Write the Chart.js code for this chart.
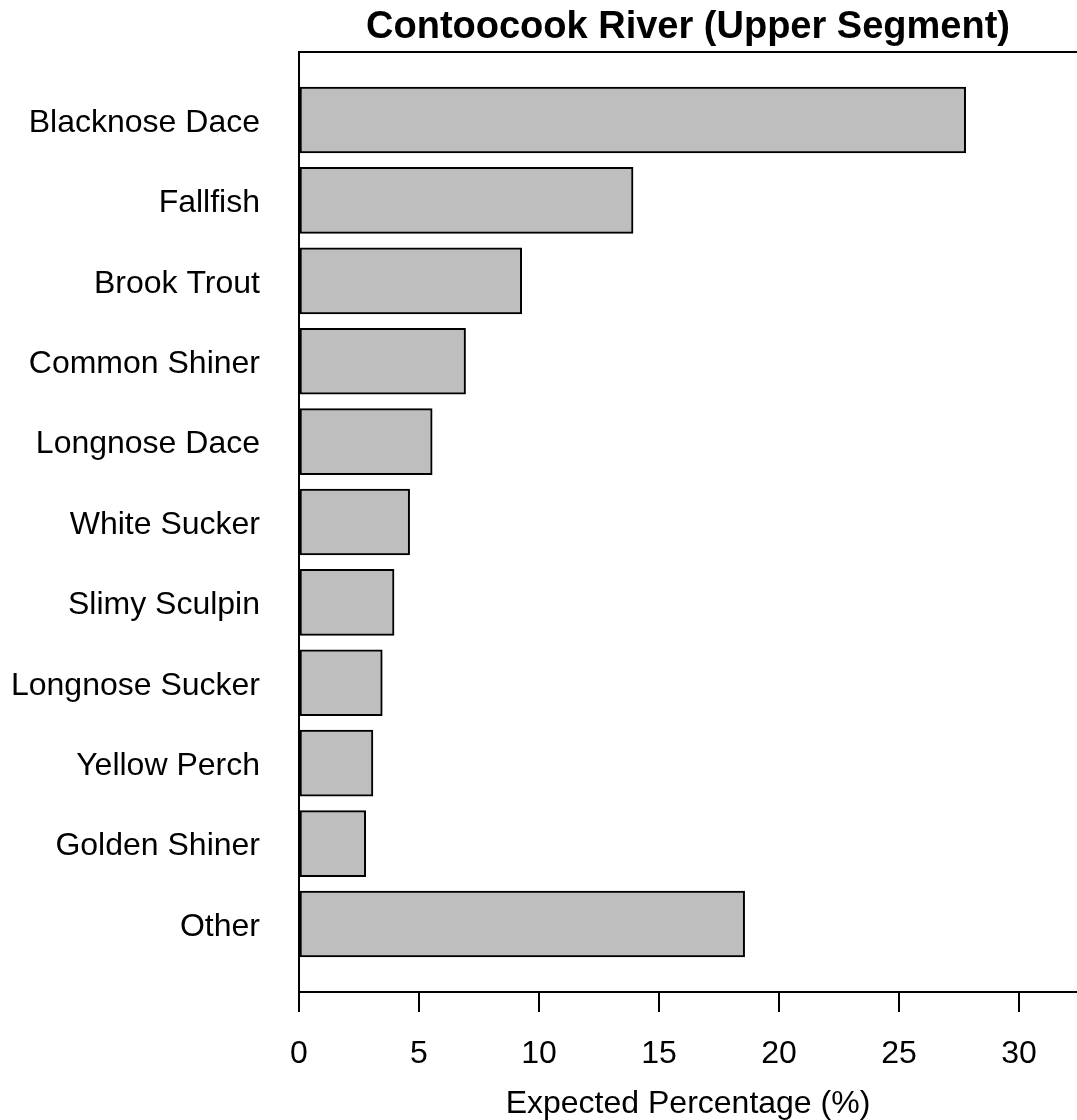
<!DOCTYPE html>
<html>
<head>
<meta charset="utf-8">
<script src="https://cdn.jsdelivr.net/npm/chart.js@4/dist/chart.umd.min.js"></script>
<style>
html,body{margin:0;padding:0;background:#fff;}
#wrap{width:1077px;height:1120px;}
</style>
</head>
<body>
<div id="wrap"><canvas id="c" width="1077" height="1120"></canvas></div>
<script>
const categories = ["Blacknose Dace","Fallfish","Brook Trout","Common Shiner","Longnose Dace","White Sucker","Slimy Sculpin","Longnose Sucker","Yellow Perch","Golden Shiner","Other"];
const values = [27.78, 13.92, 9.28, 6.94, 5.55, 4.61, 3.96, 3.47, 3.08, 2.78, 18.57];
const xTicks = [0, 5, 10, 15, 20, 25, 30];
const titleText = "Contoocook River (Upper Segment)";
const xTitle = "Expected Percentage (%)";

const FONT = "'Liberation Sans', Arial, sans-serif";

const topLine = {
  id: 'topLine',
  afterDraw(chart) {
    const {ctx, chartArea} = chart;
    ctx.save();
    ctx.strokeStyle = '#000';
    ctx.lineWidth = 2;
    ctx.beginPath();
    ctx.moveTo(chartArea.left - 1, chartArea.top);
    ctx.lineTo(chartArea.right, chartArea.top);
    ctx.stroke();
    ctx.restore();
  }
};

new Chart(document.getElementById('c'), {
  type: 'bar',
  data: {
    datasets: [{
      data: values.map((v, i) => ({x: v, y: i})),
      backgroundColor: '#bebebe',
      borderColor: '#000',
      borderWidth: 2,
      borderSkipped: false,
      barThickness: 66
    }]
  },
  options: {
    indexAxis: 'y',
    responsive: false,
    animation: false,
    layout: {padding: {left: 0, right: 0, top: 0, bottom: 0}},
    plugins: {
      legend: {display: false},
      tooltip: {enabled: false},
      title: {
        display: true,
        text: titleText,
        fullSize: false,
        color: '#000',
        font: {family: FONT, size: 38, weight: 'bold', lineHeight: 1.2},
        padding: {top: 5, bottom: 1.4}
      }
    },
    scales: {
      y: {
        type: 'linear',
        reverse: true,
        offset: false,
        min: -0.846,
        max: 10.846,
        afterBuildTicks(scale) {
          scale.ticks = categories.map((c, i) => ({value: i}));
        },
        afterFit(scale) { scale.width = 299; scale.paddingTop = 0; scale.paddingBottom = 0; },
        grid: {display: false, drawTicks: false},
        border: {display: true, color: '#000', width: 2},
        ticks: {
          padding: 39,
          labelOffset: 3,
          color: '#000',
          font: {family: FONT, size: 32},
          callback: (v) => categories[v] !== undefined ? categories[v] : ''
        }
      },
      x: {
        type: 'linear',
        min: 0,
        max: 32.42,
        afterBuildTicks(scale) {
          scale.ticks = xTicks.map(v => ({value: v}));
        },
        afterFit(scale) { scale.height = 128; },
        grid: {drawOnChartArea: false, drawTicks: true, tickLength: 20, color: '#000', lineWidth: 2},
        border: {display: true, color: '#000', width: 2},
        ticks: {
          padding: 23,
          color: '#000',
          maxRotation: 0,
          font: {family: FONT, size: 32}
        },
        title: {
          display: true,
          text: xTitle,
          color: '#000',
          font: {family: FONT, size: 32},
          padding: {top: 14, bottom: -3}
        }
      }
    }
  },
  plugins: [topLine]
});
</script>
</body>
</html>
